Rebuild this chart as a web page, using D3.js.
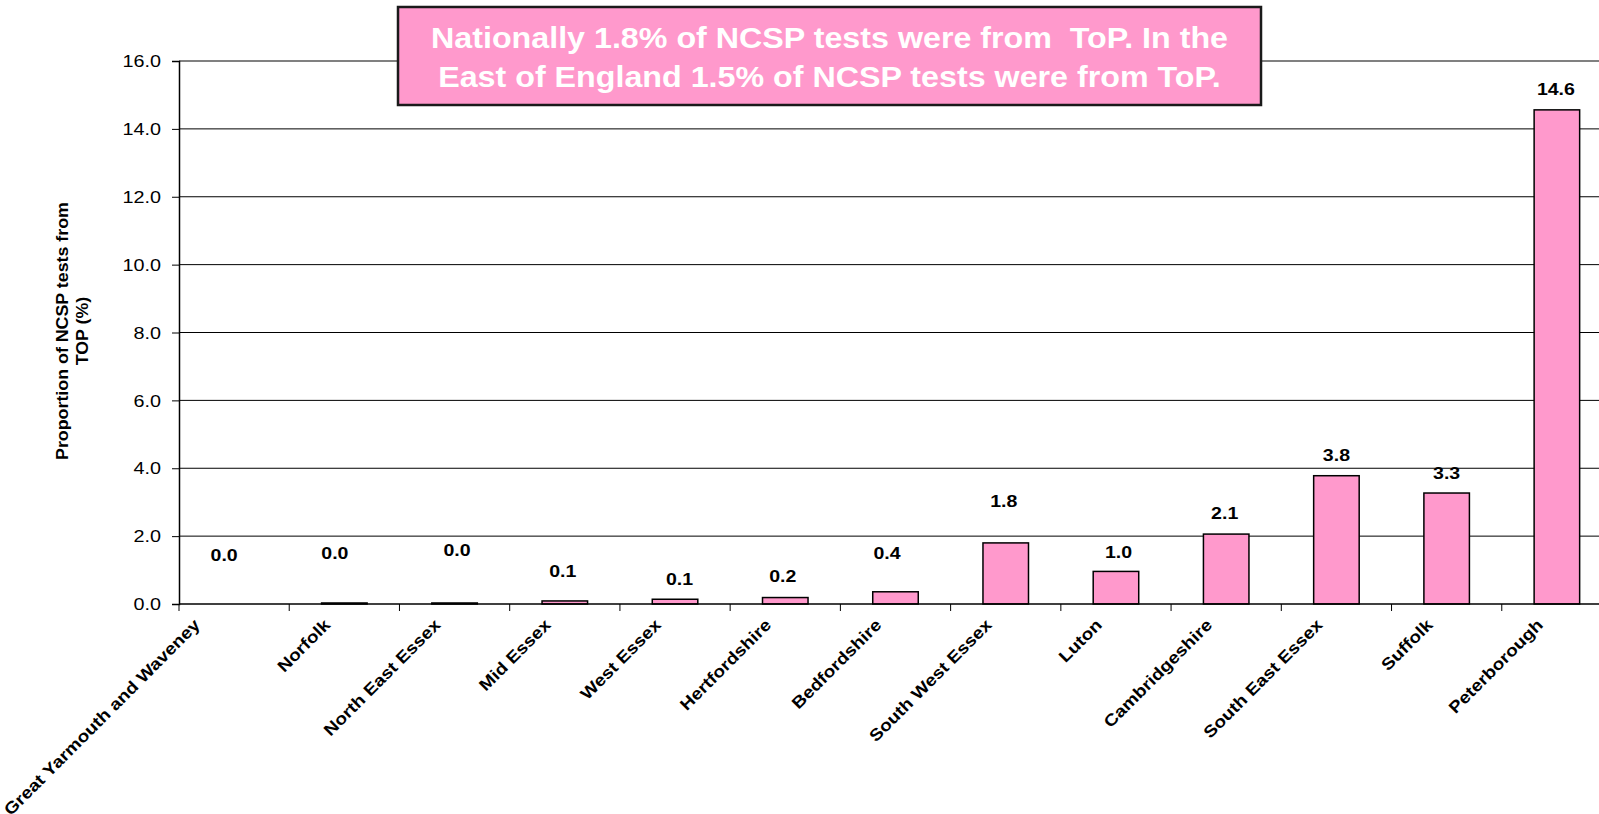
<!DOCTYPE html>
<html>
<head>
<meta charset="utf-8">
<script src="https://cdn.jsdelivr.net/npm/d3@7/dist/d3.min.js"></script>
<style>
  html, body { margin: 0; padding: 0; background: #fff; }
  svg { display: block; }
  text { font-family: "Liberation Sans", Arial, Helvetica, sans-serif; }
</style>
</head>
<body>
<svg id="chart" width="1599" height="814"></svg>
<script>
// ---- data ----
const categories = [
  "Great Yarmouth and Waveney", "Norfolk", "North East Essex", "Mid Essex",
  "West Essex", "Hertfordshire", "Bedfordshire", "South West Essex", "Luton",
  "Cambridgeshire", "South East Essex", "Suffolk", "Peterborough"
];
const values = [0.0, 0.03, 0.03, 0.09, 0.14, 0.19, 0.36, 1.8, 0.96, 2.06, 3.78, 3.27, 14.56];
const yTicks = [0, 2, 4, 6, 8, 10, 12, 14, 16];
const titleLines = [
  "Nationally 1.8% of NCSP tests were from\u00a0\u00a0ToP. In the",
  "East of England 1.5% of NCSP tests were from ToP."
];
const yTitleLines = ["Proportion of NCSP tests from", "TOP (%)"];

// ---- layout (manual label placement like the original) ----
const labelLift = [28.5, 29, 32.5, 9, 0, 1, 18, 21, -1.5, 0.5, 0, 0, 0.5];
const labelShift = [-10, -9.5, 2.5, -2, 4.5, -2.5, -8.5, -2, 2.5, -1.5, 0, 0, -1];
const xLabelShift = [-20, 0, 0, 0, 0, 0, 0, 0, 0, 0, 0, 0, 0];

(function () {
const svg = d3.select("#chart");
const pLeft = 179, pRight = 1612, pTop = 61, pBottom = 604;
const SX = 1.15; // horizontal glyph stretch of the original rendering

const x = d3.scaleBand().domain(categories).range([pLeft, pRight]).padding(0);
const y = d3.scaleLinear().domain([0, 16]).range([pBottom, pTop]);

// gridlines
svg.append("g").selectAll("line")
  .data(yTicks.filter(d => d > 0))
  .join("line")
  .attr("x1", pLeft).attr("x2", pRight)
  .attr("y1", d => y(d)).attr("y2", d => y(d))
  .attr("stroke", d => d === 16 ? "#808080" : "#000")
  .attr("stroke-width", d => d === 16 ? 2 : 1);

// y axis
const yAxis = d3.axisLeft(y).tickValues(yTicks).tickSize(7).tickPadding(11)
  .tickFormat(d3.format(".1f"));
const gy = svg.append("g").attr("transform", `translate(${pLeft},0)`).call(yAxis);
gy.select(".domain").attr("stroke", "#000").attr("stroke-width", 1.5);
gy.selectAll(".tick line").attr("stroke", "#000").attr("stroke-width", 1);
gy.selectAll(".tick text")
  .attr("font-family", "Liberation Sans, Arial, sans-serif")
  .attr("font-size", 17.2)
  .attr("fill", "#000")
  .attr("x", -18 / SX)
  .attr("dy", "0.33em")
  .attr("transform", `scale(${SX},1)`);

// bars
const bw = x.bandwidth() * 0.413;
svg.append("g").selectAll("rect")
  .data(values)
  .join("rect")
  .attr("x", (d, i) => x(categories[i]) + (x.bandwidth() - bw) / 2)
  .attr("y", d => y(d))
  .attr("width", bw)
  .attr("height", d => pBottom - y(d))
  .attr("fill", "#FF99CC")
  .attr("stroke", "#000")
  .attr("stroke-width", 1.5);

// x axis line + boundary ticks
const gx = svg.append("g");
gx.append("line").attr("x1", pLeft).attr("x2", pRight)
  .attr("y1", pBottom).attr("y2", pBottom)
  .attr("stroke", "#000").attr("stroke-width", 1.5);
const bounds = categories.map(c => x(c)).concat([pRight]);
gx.selectAll("line.tk").data(bounds).join("line").attr("class", "tk")
  .attr("x1", d => d).attr("x2", d => d)
  .attr("y1", pBottom).attr("y2", pBottom + 7)
  .attr("stroke", "#000").attr("stroke-width", 1);

// x labels
gx.selectAll("text.xl").data(categories).join("text").attr("class", "xl")
  .attr("transform", (d, i) => `translate(${x(d) + x.bandwidth() / 2 - 13 + xLabelShift[i]},${pBottom + 22}) rotate(-45) scale(${SX},1)`)
  .attr("text-anchor", "end")
  .attr("font-weight", "bold")
  .attr("font-size", 16.6)
  .attr("fill", "#000")
  .text(d => d);

// data labels
const fmt = d3.format(".1f");
svg.append("g").selectAll("text").data(values).join("text")
  .attr("transform", (d, i) => `translate(${x(categories[i]) + x.bandwidth() / 2 + labelShift[i]},${y(d) - 14.5 - labelLift[i]}) scale(${SX},1)`)
  .attr("text-anchor", "middle")
  .attr("font-weight", "bold")
  .attr("font-size", 17)
  .attr("fill", "#000")
  .text(d => fmt(d));

// y axis title
svg.append("g").selectAll("text").data(yTitleLines).join("text")
  .attr("transform", (d, i) => `translate(${i === 0 ? 67.5 : 87.5},331) rotate(-90) scale(1.1,1)`)
  .attr("text-anchor", "middle")
  .attr("font-weight", "bold")
  .attr("font-size", 16.2)
  .attr("fill", "#000")
  .text(d => d);

// title box
const tb = svg.append("g");
tb.append("rect")
  .attr("x", 398).attr("y", 7).attr("width", 863).attr("height", 98)
  .attr("fill", "#FF99CC").attr("stroke", "#1a1a1a").attr("stroke-width", 2.5);
tb.selectAll("text").data(titleLines).join("text")
  .attr("transform", (d, i) => `translate(829.5,${i === 0 ? 48.3 : 87.3}) scale(1.075,1)`)
  .attr("text-anchor", "middle")
  .attr("font-weight", "bold")
  .attr("font-size", 30)
  .attr("fill", "#fff")
  .text(d => d);
})();
</script>
</body>
</html>
